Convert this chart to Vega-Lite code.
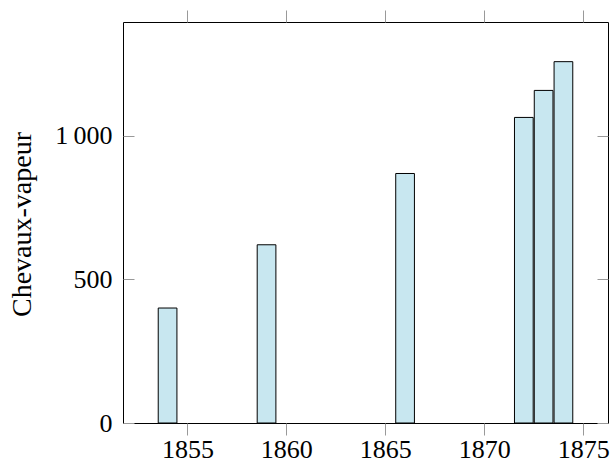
{
  "$schema": "https://vega.github.io/schema/vega-lite/v6.json",
  "width": 485,
  "height": 401,
  "autosize": {"type": "none"},
  "padding": {"left": 123, "top": 22, "right": 6, "bottom": 39},
  "config": {
    "view": {"stroke": "black", "strokeWidth": 1},
    "font": "Liberation Serif",
    "axis": {
      "domain": false,
      "grid": false,
      "tickColor": "#999999",
      "tickWidth": 1,
      "labelFont": "Liberation Serif",
      "labelFontSize": 26,
      "labelColor": "black",
      "titleFont": "Liberation Serif",
      "titleColor": "black",
      "titleFontWeight": "normal"
    }
  },
  "data": {
    "values": [
      {"year": 1854, "hp": 400},
      {"year": 1859, "hp": 620},
      {"year": 1866, "hp": 868},
      {"year": 1872, "hp": 1063},
      {"year": 1873, "hp": 1157},
      {"year": 1874, "hp": 1257}
    ]
  },
  "layer": [
    {
      "mark": {"type": "bar", "width": 18.7, "fill": "#c8e7f0", "stroke": "black", "strokeWidth": 1},
      "encoding": {
        "x": {
          "field": "year", "type": "quantitative",
          "scale": {"domain": [1852, 1876], "nice": false, "zero": false},
          "axis": {"orient": "bottom", "values": [1855, 1860, 1865, 1870, 1875], "format": "d", "tickSize": 12, "labelPadding": 1, "labelFlush": false, "title": null}
        },
        "y": {
          "field": "hp", "type": "quantitative",
          "scale": {"domain": [0, 1395], "nice": false},
          "axis": {
            "orient": "left", "values": [0, 500, 1000], "tickSize": -11, "labelPadding": 22,
            "labelExpr": "replace(datum.label, ',', '\u2009')",
            "title": "Chevaux-vapeur", "titleFontSize": 28, "titleAngle": -90,
            "titleX": -93, "titleY": 202, "titleAlign": "center", "titleBaseline": "alphabetic"
          }
        }
      }
    },
    {
      "mark": {"type": "bar", "width": 18.7, "opacity": 0},
      "encoding": {
        "x": {
          "field": "year", "type": "quantitative",
          "scale": {"domain": [1852, 1876], "nice": false, "zero": false},
          "axis": {"orient": "top", "values": [1855, 1860, 1865, 1870, 1875], "labels": false, "tickSize": 12, "title": null}
        },
        "y": {
          "field": "hp", "type": "quantitative",
          "scale": {"domain": [0, 1395], "nice": false},
          "axis": {"orient": "right", "values": [0, 500, 1000], "labels": false, "tickSize": -11, "title": null}
        }
      }
    }
  ],
  "resolve": {"axis": {"x": "independent", "y": "independent"}}
}
